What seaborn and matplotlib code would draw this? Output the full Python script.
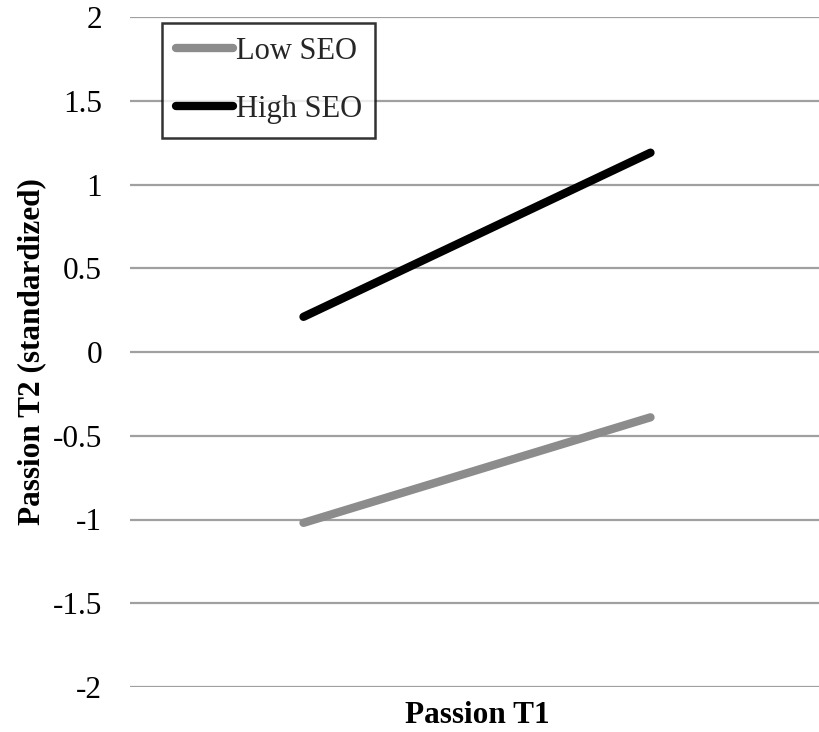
import matplotlib
matplotlib.use("Agg")
import matplotlib.pyplot as plt
import seaborn as sns
import pandas as pd

# Data
groups = ["Low SEO", "High SEO"]
passion_t1 = [0, 1]  # low / high Passion T1
low_seo = [-1.02, -0.39]
high_seo = [0.21, 1.19]
y_ticks = [-2, -1.5, -1, -0.5, 0, 0.5, 1, 1.5, 2]
y_tick_labels = ["-2", "-1.5", "-1", "-0.5", "0", "0.5", "1", "1.5", "2"]

df = pd.DataFrame({
    "x": passion_t1 * 2,
    "y": low_seo + high_seo,
    "group": [groups[0]] * 2 + [groups[1]] * 2,
})

sns.set_theme(style="white")
plt.rcParams["font.family"] = ["Liberation Serif", "DejaVu Serif"]

fig = plt.figure(figsize=(8.2, 7.32), dpi=100)
ax = fig.add_axes([130 / 820, 45 / 732, 694 / 820, 670 / 732])

sns.lineplot(data=df, x="x", y="y", hue="group", hue_order=groups,
             palette={"Low SEO": "#8c8c8c", "High SEO": "#000000"},
             linewidth=6, ax=ax, legend=True, solid_capstyle="round")

ax.set_xlim(-0.5, 1.5)
ax.set_ylim(-2, 2)
ax.set_yticks(y_ticks)
ax.set_yticklabels(y_tick_labels)
ax.set_xticks([])
ax.tick_params(axis="y", length=0, pad=20, labelsize=22.5, colors="black")
for s in ax.spines.values():
    s.set_visible(False)
ax.grid(axis="y", color="#a0a0a0", linewidth=1.6)
ax.grid(axis="x", visible=False)
ax.set_axisbelow(True)

ax.set_xlabel("Passion T1", fontsize=22.5, fontweight="bold", color="black", labelpad=10)
ax.set_ylabel("Passion T2 (standardized)", fontsize=22.5, fontweight="bold", color="black", labelpad=5)

leg = ax.legend(loc="upper left", bbox_to_anchor=(0.046, 0.991), borderaxespad=0,
                fontsize=22, frameon=True, fancybox=False, edgecolor="black",
                handlelength=1.86, handletextpad=0.1, borderpad=0.45, labelspacing=0.95)
leg.get_frame().set_linewidth(1.8)
for line in leg.get_lines():
    line.set_linewidth(6)
    line.set_solid_capstyle("round")

fig.savefig("out.png", dpi=100)
